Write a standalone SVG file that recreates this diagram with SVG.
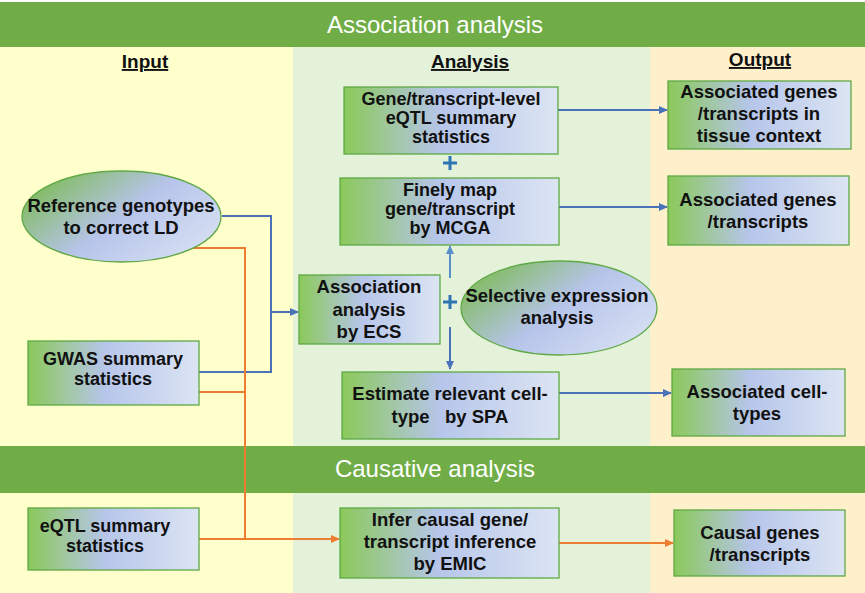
<svg xmlns="http://www.w3.org/2000/svg" width="865" height="593" viewBox="0 0 865 593">
<style>
.t{font-family:"Liberation Sans",Arial,sans-serif;font-weight:bold;font-size:18.5px;fill:#111;text-anchor:middle}
.s{font-size:18px}
.h{font-family:"Liberation Sans",Arial,sans-serif;font-weight:bold;font-size:19px;fill:#111;text-anchor:middle;text-decoration:underline}
.b{font-family:"Liberation Sans",Arial,sans-serif;font-size:24px;fill:#fff;text-anchor:middle}
.box{fill:url(#gb);stroke:#5FA845;stroke-width:1.3}
.ell{fill:url(#ge);stroke:#5FA845;stroke-width:1.3}
.bl{fill:none;stroke:#4A72B8;stroke-width:2}
.lb{fill:none;stroke:#5B8FCB;stroke-width:2}
.or{fill:none;stroke:#ED7D31;stroke-width:2}
.plus{stroke:#2E75B6;stroke-width:3}
</style>
<defs>
<linearGradient id="gb" x1="0" y1="0" x2="1" y2="0">
<stop offset="0" stop-color="#8BC95A"/>
<stop offset="0.45" stop-color="#B6C5EA"/>
<stop offset="1" stop-color="#DCE5F3"/>
</linearGradient>
<linearGradient id="ge" x1="0" y1="0.2" x2="1" y2="0.8">
<stop offset="0" stop-color="#7DBB55"/>
<stop offset="0.5" stop-color="#B6C4EA"/>
<stop offset="1" stop-color="#D8E1F3"/>
</linearGradient>
<marker id="ab" markerWidth="9" markerHeight="8" refX="8" refY="4" orient="auto" markerUnits="userSpaceOnUse">
<path d="M0,0 L9,4 L0,8 Z" fill="#4A72B8"/>
</marker>
<marker id="alb" markerWidth="9" markerHeight="8" refX="8" refY="4" orient="auto" markerUnits="userSpaceOnUse">
<path d="M0,0 L9,4 L0,8 Z" fill="#5B8FCB"/>
</marker>
<marker id="ao" markerWidth="9" markerHeight="8" refX="8" refY="4" orient="auto" markerUnits="userSpaceOnUse">
<path d="M0,0 L9,4 L0,8 Z" fill="#ED7D31"/>
</marker>
</defs>

<g id="background">
<rect x="0" y="0" width="865" height="593" fill="#ffffff"/>
<rect x="0" y="47" width="293" height="546" fill="#FFFFCC"/>
<rect x="293" y="47" width="357" height="546" fill="#E5F2DA"/>
<rect x="650" y="47" width="215" height="546" fill="#FFF0CC"/>
<rect x="0" y="2" width="865" height="45" fill="#70AD47"/>
<rect x="0" y="446" width="865" height="47" fill="#70AD47"/>
<text class="b" x="435" y="33">Association analysis</text>
<text class="b" x="435" y="477">Causative analysis</text>
<text class="h" x="145" y="68">Input</text>
<text class="h" x="470" y="68">Analysis</text>
<text class="h" x="760" y="66">Output</text>
</g>

<g id="connectors">
<path class="bl" d="M222,216 H271 V372 H199"/>
<path class="bl" d="M271,312 H298" marker-end="url(#ab)"/>
<path class="or" d="M193,248 H245 V539"/>
<path class="or" d="M199,392 H245"/>
<path class="or" d="M199,539 H339" marker-end="url(#ao)"/>
<path class="or" d="M559,543 H673" marker-end="url(#ao)"/>
<path class="bl" d="M558,110 H667" marker-end="url(#ab)"/>
<path class="bl" d="M559,207 H667" marker-end="url(#ab)"/>
<path class="bl" d="M559,393 H671" marker-end="url(#ab)"/>
<path class="lb" d="M450,278 V246" marker-end="url(#alb)"/>
<path class="bl" d="M450,327 V369" marker-end="url(#ab)"/>
<path class="plus" d="M443,163 H457 M450,156 V170"/>
<path class="plus" d="M443,302 H457 M450,295 V309"/>
</g>

<g id="ref-genotypes">
<ellipse class="ell" cx="121.5" cy="216.5" rx="99.5" ry="45.5"/>
<text class="t" x="121" y="212">Reference genotypes</text>
<text class="t" x="121" y="234">to correct LD</text>
</g>

<g id="gwas">
<rect class="box" x="28" y="341" width="171" height="64"/>
<text class="t s" x="113" y="365">GWAS summary</text>
<text class="t s" x="113" y="385">statistics</text>
</g>

<g id="eqtl-input">
<rect class="box" x="28" y="508" width="171" height="62"/>
<text class="t s" x="105" y="532">eQTL summary</text>
<text class="t s" x="105" y="552">statistics</text>
</g>

<g id="gene-level">
<rect class="box" x="344" y="87" width="214" height="67"/>
<text class="t s" x="451" y="105">Gene/transcript-level</text>
<text class="t s" x="451" y="124">eQTL summary</text>
<text class="t s" x="451" y="143">statistics</text>
</g>

<g id="finely-map">
<rect class="box" x="340" y="178" width="219" height="67"/>
<text class="t s" x="450" y="196">Finely map</text>
<text class="t s" x="450" y="215">gene/transcript</text>
<text class="t s" x="450" y="234">by MCGA</text>
</g>

<g id="ecs">
<rect class="box" x="299" y="275" width="141" height="69"/>
<text class="t" x="369" y="293">Association</text>
<text class="t" x="369" y="316">analysis</text>
<text class="t" x="369" y="338">by ECS</text>
</g>

<g id="selective">
<ellipse class="ell" cx="559" cy="308" rx="98" ry="47"/>
<text class="t" x="557" y="302">Selective expression</text>
<text class="t" x="557" y="324">analysis</text>
</g>

<g id="spa">
<rect class="box" x="342" y="372" width="217" height="67"/>
<text class="t" x="450" y="400">Estimate relevant cell-</text>
<text class="t" x="450" y="423" xml:space="preserve">type   by SPA</text>
</g>

<g id="emic">
<rect class="box" x="340" y="508" width="219" height="70"/>
<text class="t" x="450" y="526">Infer causal gene/</text>
<text class="t" x="450" y="548">transcript inference</text>
<text class="t" x="450" y="570">by EMIC</text>
</g>

<g id="out-tissue">
<rect class="box" x="668" y="81" width="183" height="68"/>
<text class="t" x="759" y="98">Associated genes</text>
<text class="t" x="759" y="120">/transcripts in</text>
<text class="t" x="759" y="142">tissue context</text>
</g>

<g id="out-genes">
<rect class="box" x="668" y="176" width="181" height="69"/>
<text class="t" x="758" y="206">Associated genes</text>
<text class="t" x="758" y="228">/transcripts</text>
</g>

<g id="out-cells">
<rect class="box" x="672" y="369" width="173" height="67"/>
<text class="t" x="757" y="398">Associated cell-</text>
<text class="t" x="757" y="420">types</text>
</g>

<g id="out-causal">
<rect class="box" x="674" y="510" width="171" height="66"/>
<text class="t" x="760" y="539">Causal genes</text>
<text class="t" x="760" y="561">/transcripts</text>
</g>
</svg>
